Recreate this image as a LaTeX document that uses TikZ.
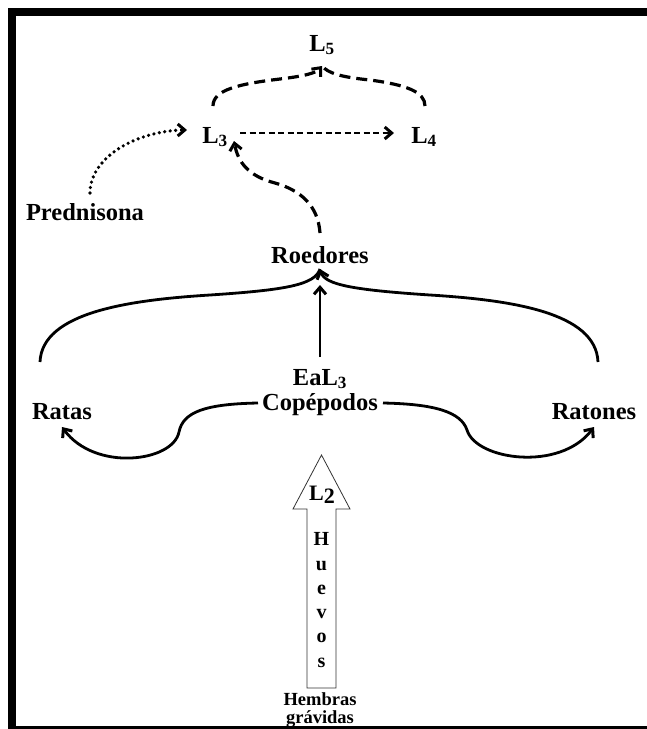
\documentclass[tikz,border=0pt]{standalone}
\usepackage{fontspec}
\setmainfont{Liberation Serif}
\usetikzlibrary{arrows.meta}
\begin{document}
\begin{tikzpicture}[x=1pt,y=-1pt,
  lbl/.style={font=\fontsize{24.5}{26}\selectfont\bfseries, inner sep=0pt},
  small/.style={font=\fontsize{21}{18}\selectfont\bfseries, inner sep=0pt},
  bottomtxt/.style={font=\fontsize{18.5}{18}\selectfont\bfseries, inner sep=0pt, align=center},
  tip/.style={-{Straight Barb[length=7pt,width=12pt,line width=3pt]}},
  dashline/.style={line width=3.2pt, dash pattern=on 11pt off 6pt},
  thindash/.style={line width=2.2pt, dash pattern=on 6pt off 3.5pt},
  solidline/.style={line width=2.8pt},
  dotline/.style={line width=3.6pt, dash pattern=on 0pt off 5.5pt, line cap=round}]
\useasboundingbox (0,0) rectangle (647,729);
\fill[black] (8,8) rectangle (647,729);
\fill[white] (16,16) rectangle (647,726);

% nodes
\node[lbl] (L5) at (322,45) {L$_{\mathbf 5}$};
\node[lbl] (L3) at (215,137) {L$_{\mathbf 3}$};
\node[lbl] (L4) at (424,137) {L$_{\mathbf 4}$};
\node[lbl] (pred) at (85,212) {Prednisona};
\node[lbl] (roe) at (320,255) {Roedores};
\node[lbl] (ea) at (320,379) {EaL$_{\mathbf 3}$};
\node[lbl] (cop) at (320,405) {Copépodos};
\node[lbl] (ratas) at (62,412) {Ratas};
\node[lbl] (ratones) at (594,412) {Ratones};

% coordinates
\coordinate (l5tip) at (322,66);
\coordinate (l3top) at (213,106);
\coordinate (l4top) at (425,106);
\coordinate (l3sub) at (234,141);
\coordinate (roetop) at (320,233);
\coordinate (predtop) at (90,193);
\coordinate (l3left) at (187,130);
\coordinate (l3right) at (240,133);
\coordinate (l4left) at (394,133);
\coordinate (roetip) at (320,269);
\coordinate (ratastop) at (40,362);
\coordinate (ratonestop) at (598,362);
\coordinate (eatop) at (320,357);
\coordinate (eatip) at (320,285);
\coordinate (copleft) at (258,403);
\coordinate (copright) at (383,403);
\coordinate (ratasbot) at (62,427);
\coordinate (ratonesbot) at (594,427);

% L3, L4 -> L5
\draw[dashline,tip] (l3top) .. controls (213,90) and (238,84) .. (280,79)
   .. controls (305,76) and (316,73) .. (l5tip);
\draw[dashline] (l4top) .. controls (425,92) and (407,85) .. (370,80)
   .. controls (340,77) and (328,73) .. (l5tip);
% L3 -> L4
\draw[thindash,tip] (l3right) -- (l4left);
% Prednisona -> L3
\draw[dotline] (predtop) .. controls (90,160) and (130,133) .. (180,130);
\draw[line width=2.5pt,-{Straight Barb[length=7pt,width=12pt,line width=3pt]}] (180,130) -- (l3left);
% Roedores -> L3
\draw[dashline,tip] (roetop) .. controls (318,205) and (300,190) .. (275,183)
   .. controls (248,176) and (238,162) .. (l3sub);

% solid arrows to Roedores
\draw[solidline,tip] (eatop) -- (eatip);
\draw[solidline] (ratastop) .. controls (42,312) and (130,300) .. (210,295)
   .. controls (285,290) and (315,285) .. (roetip);
\draw[solidline,tip] (ratonestop) .. controls (596,312) and (510,300) .. (430,295)
   .. controls (355,290) and (325,285) .. (roetip);

% lower curves to Ratas, Ratones
\draw[solidline,tip] (copleft) .. controls (205,404) and (183,412) .. (179,432)
   .. controls (173,462) and (95,472) .. (ratasbot);
\draw[solidline,tip] (copright) .. controls (435,404) and (461,412) .. (467,430)
   .. controls (476,460) and (560,472) .. (ratonesbot);

% hollow arrow
\draw[line width=0.8pt, draw=black!80, fill=white]
  (307,688) -- (307,509) -- (293,509) -- (321.5,455) -- (350,509) -- (336,509) -- (336,688) -- cycle;
\node[small, font=\fontsize{22}{18}\selectfont\bfseries] (L2) at (322,495) {L\raisebox{-3pt}{2}};
\node[small, align=center, font=\fontsize{20}{24.3}\selectfont\bfseries] (huevos) at (321.5,600) {H\\u\\e\\v\\o\\s};
\node[bottomtxt, anchor=base] (hem) at (320,723.5) {Hembras\\grávidas};
\end{tikzpicture}
\end{document}
